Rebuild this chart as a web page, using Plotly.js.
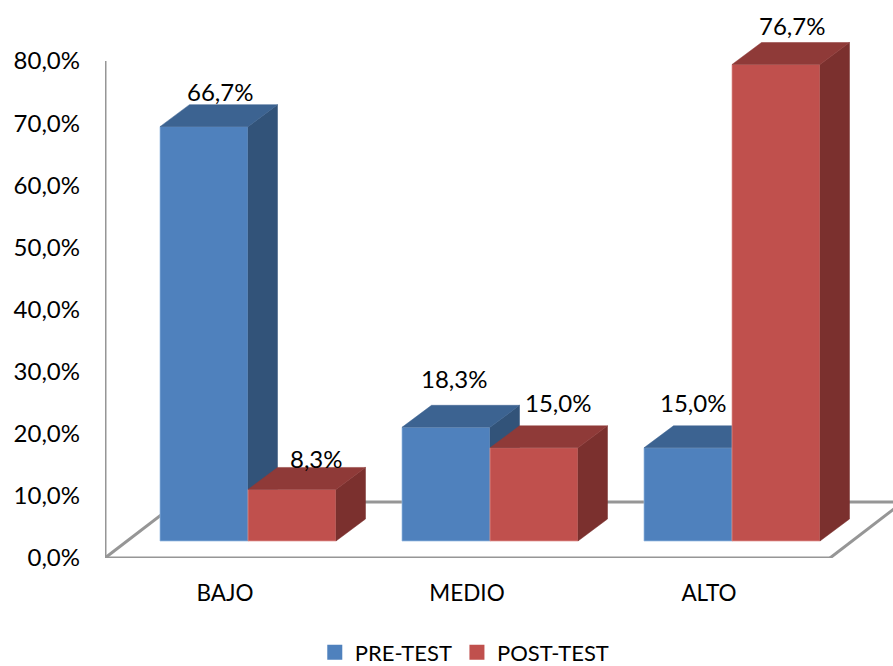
<!DOCTYPE html>
<html>
<head>
<meta charset="utf-8">
<script src="https://cdn.plot.ly/plotly-3.0.1.min.js"></script>
<style>html,body{margin:0;padding:0;background:#fff}#chart{width:893px;height:666px}</style>
</head>
<body>
<div id="chart"></div>
<script>
// Survey levels and the share of answers in each, before and after the programme
const categories = ['BAJO', 'MEDIO', 'ALTO'];
const preTest = [66.7, 18.3, 15.0];
const postTest = [8.3, 15.0, 76.7];
const tickValues = [0, 10, 20, 30, 40, 50, 60, 70, 80];

// Pixel offsets of each value label from its bar's front top edge
const preLabelShift = [[16, 35], [8, 49], [5, 45]];
const postLabelShift = [[24, 31], [24, 45], [16, 39]];

// Scale and pseudo-3D projection, in axis units
const W = 893, H = 666, LEFT = 105, BOTTOM = 108;
const PX_X = 242, PX_Y = 6.2125;
const xMin = -120 / PX_X, xMax = (W - 225) / PX_X;
const yMax = (H - BOTTOM) / PX_Y;
const barW = 88 / PX_X, barShift = 23 / PX_X;
const lift = 17 / PX_Y;                 // bars stand part-way back on the floor
const depthX = 29.5 / PX_X, depthY = 22 / PX_Y;   // bar depth
const floorX = 73 / PX_X, floorY = 56 / PX_Y;     // floor depth
const floorEnd = xMin + 725 / PX_X;

const FONT = 'Lato, Carlito, sans-serif';
const AXIS_GREY = '#969696';

const fmt = v => v.toFixed(1).replace('.', ',') + '%';

// Front face is a real bar; the side and top faces are filled polygons behind it
function bar3d(values, name, side, colors, axes) {
  const xc = values.map((_, i) => i + barShift + side * barW / 2);
  const sx = [], sy = [], tx = [], ty = [];
  values.forEach((v, i) => {
    const l = xc[i] - barW / 2, r = xc[i] + barW / 2, t = v + lift;
    sx.push(r, r + depthX, r + depthX, r, r, null);
    sy.push(lift, lift + depthY, t + depthY, t, lift, null);
    tx.push(l, l + depthX, r + depthX, r, l, null);
    ty.push(t, t + depthY, t + depthY, t, t, null);
  });
  const poly = (x, y, color) => ({
    type: 'scatter', mode: 'lines', x, y, fill: 'toself', fillcolor: color,
    line: {color: color, width: 0.5}, hoverinfo: 'skip', showlegend: false, ...axes
  });
  return [
    {type: 'bar', x: xc, y: values, base: lift, width: barW, name: name, showlegend: false,
     marker: {color: colors.front, line: {color: colors.edge, width: 1}}, ...axes},
    poly(sx, sy, colors.side),
    poly(tx, ty, colors.top),
    {type: 'scatter', mode: 'markers', x: [null], y: [null], name: name, ...axes,
     marker: {symbol: 'square', size: 15, color: colors.front}}
  ];
}

const blue = {front: '#4F81BD', side: '#325379', top: '#3C6391', edge: 'rgba(150,185,225,0.7)'};
const red = {front: '#C0504D', side: '#7B302E', top: '#8F3A38', edge: 'rgba(225,150,145,0.7)'};

const traces = [
  ...bar3d(preTest, 'PRE-TEST', -1, blue, {xaxis: 'x', yaxis: 'y'}),
  ...bar3d(postTest, 'POST-TEST', 1, red, {xaxis: 'x2', yaxis: 'y2'})
];

const labelAnn = (values, side, shifts) => values.map((v, i) => ({
  x: i + barShift + side * barW / 2, y: v + lift, xref: 'x', yref: 'y',
  xshift: shifts[i][0], yshift: shifts[i][1], text: fmt(v), showarrow: false,
  font: {family: FONT, size: 24, color: '#000'}
}));

const seg = (x0, y0, x1, y1) => ({
  type: 'line', xref: 'x', yref: 'y', x0, y0, x1, y1, layer: 'below',
  line: {color: AXIS_GREY, width: 3}
});

const layout = {
  width: W, height: H, autosize: false,
  margin: {l: LEFT, r: 0, t: 0, b: BOTTOM},
  paper_bgcolor: '#fff', plot_bgcolor: '#fff',
  separators: ',.', barmode: 'overlay', hovermode: false,
  font: {family: FONT, size: 23, color: '#000'},
  xaxis: {
    range: [xMin, xMax], tickvals: [0, 1, 2], ticktext: categories,
    showgrid: false, zeroline: false, showline: false, ticks: '',
    ticklabelstandoff: 19, tickfont: {family: FONT, size: 22.5, color: '#000'}
  },
  yaxis: {
    range: [0, yMax], tickvals: tickValues, ticktext: tickValues.map(fmt),
    showgrid: false, zeroline: false, showline: false, ticks: '',
    ticklabelstandoff: 24, tickfont: {family: FONT, size: 24, color: '#000'}
  },
  xaxis2: {range: [xMin, xMax], overlaying: 'x', visible: false},
  yaxis2: {range: [0, yMax], overlaying: 'y', visible: false},
  shapes: [
    seg(xMin, 0, xMin, 80),
    seg(xMin, 0, floorEnd, 0),
    seg(xMin, 0, xMin + floorX, floorY),
    seg(xMin + floorX, floorY, floorEnd + floorX, floorY),
    seg(floorEnd, 0, floorEnd + floorX, floorY)
  ],
  annotations: [...labelAnn(preTest, -1, preLabelShift), ...labelAnn(postTest, 1, postLabelShift)],
  legend: {
    orientation: 'h', xref: 'container', yref: 'container',
    x: 0.3525, xanchor: 'left', y: 0.052, yanchor: 'top',
    font: {family: FONT, size: 22, color: '#000'},
    traceorder: 'normal', tracegroupgap: 0
  }
};

Plotly.newPlot('chart', traces, layout, {displayModeBar: false, staticPlot: true});
</script>
</body>
</html>
